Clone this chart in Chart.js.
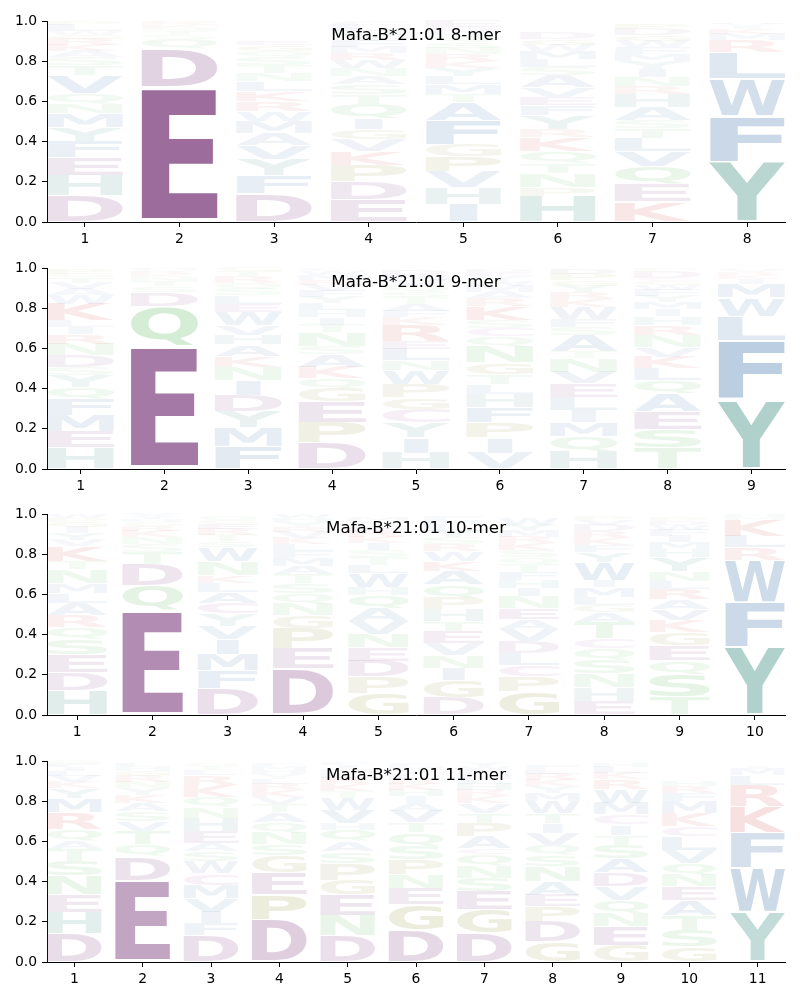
<!DOCTYPE html>
<html>
<head>
<meta charset="utf-8">
<script src="https://cdn.jsdelivr.net/npm/chart.js@4.4.1/dist/chart.umd.min.js"></script>
<style>
body{margin:0;background:#fff;width:800px;height:1000px;position:relative;overflow:hidden;}
.panel{position:absolute;left:0;width:800px;height:247px;}
</style>
</head>
<body>
<div class="panel" style="top:0px"><canvas id="c0" width="800" height="247"></canvas></div>
<div class="panel" style="top:247px"><canvas id="c1" width="800" height="247"></canvas></div>
<div class="panel" style="top:493px"><canvas id="c2" width="800" height="247"></canvas></div>
<div class="panel" style="top:740px"><canvas id="c3" width="800" height="247"></canvas></div>
<script>
const titles=["Mafa-B*21:01 8-mer","Mafa-B*21:01 9-mer","Mafa-B*21:01 10-mer","Mafa-B*21:01 11-mer"];
const yTicks=[0,0.2,0.4,0.6,0.8,1.0];

// letters per position, bottom to top, with their heights
const letters8=["DHEFYMNQVTSAKRGWLP","EDQSTNKRG","DFYVAMWRKLNTSQGE","EDPKVGIQTSANWRMFYHLC","IHVPGFATMLYKRNSQWDE","HPNTQKRYFEVASLMWGD","KEQVLTSAHRNIYMFWGDP","YFWLRMKIVH"];
const heights8=[
 [.13,.10,.09,.08,.07,.07,.05,.05,.09,.05,.04,.03,.03,.03,.02,.02,.03,.02],
 [.67,.19,.05,.02,.02,.015,.015,.01,.01],
 [.14,.09,.08,.07,.06,.06,.05,.05,.05,.05,.04,.04,.04,.03,.03,.02],
 [.11,.09,.08,.07,.06,.05,.055,.07,.05,.05,.04,.04,.04,.035,.03,.03,.03,.02,.03,.02],
 [.09,.08,.08,.075,.06,.12,.09,.04,.05,.04,.04,.035,.035,.03,.03,.03,.025,.02,.03],
 [.13,.04,.07,.05,.06,.07,.04,.07,.05,.04,.05,.06,.04,.04,.04,.03,.03,.03],
 [.10,.085,.09,.075,.065,.05,.04,.065,.065,.04,.045,.04,.04,.035,.035,.03,.03,.03,.025],
 [.30,.227,.187,.13,.06,.03,.025,.015,.01,.008]
];
const letters9=["HEMFQYSDNRILKWAVTGP","EQDSTNKRGH","FMYDINKAHVWELSQRTG","DPEGQKASNTIHLYFVRMWC","HIYCGPWNLERKFATSQVMD","VIPFHLTGNQCSKRAMWYED","HQMILEVNTASFWKRYGPD","TSEAQLKVNRHIMYFWGCDP","YFLWMIKRVH"];
const heights9=[
 [.105,.08,.083,.078,.06,.06,.04,.058,.058,.05,.035,.03,.085,.045,.03,.03,.025,.02,.025],
 [.61,.2,.07,.03,.025,.02,.015,.015,.01,.005],
 [.113,.092,.083,.078,.075,.067,.055,.057,.047,.05,.065,.04,.04,.035,.03,.03,.025,.02],
 [.133,.1,.1,.067,.05,.058,.06,.04,.07,.04,.035,.035,.035,.03,.03,.03,.025,.025,.02,.015],
 [.08,.075,.075,.067,.058,.067,.067,.05,.058,.04,.08,.04,.03,.035,.03,.03,.03,.03,.025,.025],
 [.08,.075,.075,.075,.067,.05,.05,.058,.08,.05,.04,.04,.07,.04,.03,.03,.025,.025,.02,.015],
 [.088,.075,.07,.058,.067,.067,.058,.07,.03,.08,.04,.04,.06,.04,.035,.03,.03,.03,.025],
 [.105,.09,.09,.09,.067,.058,.058,.05,.058,.05,.042,.035,.035,.03,.03,.025,.02,.015,.035,.015],
 [.345,.293,.123,.091,.07,.025,.02,.015,.01,.008]
];
const letters10=["HDESQRALMNTKVYIGPW","EQDTSNKRGHYV","DFMIVYCALKNWSTREGQ","DEPGNQSTAMFLKVRYHW","GPDENVAQHWLTSIKRFYM","DGINVETHPQAKWRSYLMF","GPCLDVAENIHFTQSKRMYW","EHNSQCTAGLMIWYFKRDVP","TSQEGKVARLNYHMIFWDP","YFWRLKMH"];
const heights10=[
 [.124,.09,.086,.075,.06,.06,.06,.05,.05,.07,.04,.075,.03,.035,.03,.025,.02,.02],
 [.52,.126,.105,.06,.04,.035,.03,.025,.02,.015,.012,.012],
 [.13,.09,.083,.075,.065,.06,.055,.055,.045,.035,.07,.07,.03,.03,.03,.025,.02,.02],
 [.23,.1,.1,.065,.06,.05,.05,.045,.04,.04,.035,.035,.03,.03,.025,.025,.02,.02],
 [.108,.083,.078,.067,.065,.065,.065,.065,.04,.07,.04,.04,.035,.035,.03,.03,.025,.025,.02],
 [.088,.083,.063,.063,.058,.061,.05,.058,.058,.066,.066,.05,.05,.035,.035,.03,.03,.025,.02],
 [.116,.075,.058,.058,.06,.06,.05,.055,.058,.04,.04,.04,.04,.035,.035,.035,.03,.03,.03,.035],
 [.07,.067,.067,.067,.058,.05,.08,.05,.035,.04,.05,.035,.09,.05,.035,.035,.035,.03,.025,.02],
 [.088,.116,.066,.075,.066,.058,.055,.05,.053,.04,.05,.07,.04,.035,.03,.03,.025,.02,.02],
 [.34,.222,.209,.061,.058,.079,.015,.01]
];
const letters11=["DHENSTAQRMYKVLIFG","EDQTVSAKYNRGHL","DFIVMCWSAEHNQKRLTG","DPEGSNQATVKRLYHMF","DNEGPSAQHVWTKRLMIF","DGENPSQTVAIHKRLYMF","DGESNQCAPTVKRHLMFWY","GDPEANSQVITWMYKRLF","GENQVDASTICMWRKLH","GSTAENQVLCKMFRH","YWFKRLMI"];
const heights11=[
 [.142,.107,.087,.092,.075,.058,.042,.058,.083,.07,.05,.03,.03,.025,.02,.02,.01],
 [.407,.117,.06,.065,.05,.05,.04,.04,.035,.03,.03,.025,.02,.02],
 [.133,.058,.058,.067,.067,.058,.058,.05,.042,.058,.067,.055,.05,.06,.05,.025,.02,.015],
 [.212,.125,.108,.083,.058,.058,.05,.05,.04,.035,.035,.03,.025,.025,.02,.02,.015],
 [.133,.1,.1,.075,.083,.058,.05,.058,.035,.065,.058,.035,.035,.03,.025,.02,.02,.015],
 [.16,.125,.083,.067,.075,.067,.067,.05,.058,.04,.035,.03,.03,.025,.025,.02,.02,.015],
 [.142,.117,.092,.067,.058,.06,.03,.058,.067,.05,.05,.035,.03,.03,.025,.025,.02,.02,.02],
 [.1,.1,.075,.058,.067,.075,.058,.05,.058,.05,.05,.058,.04,.035,.03,.03,.025,.02],
 [.083,.092,.067,.067,.067,.07,.07,.067,.05,.05,.05,.058,.067,.05,.03,.03,.02],
 [.075,.083,.075,.075,.067,.058,.058,.067,.067,.05,.067,.058,.04,.035,.025],
 [.249,.219,.175,.132,.105,.05,.03,.015]
];

const groupColors={acid:[128,66,128],arom:[60,140,128],hydro:[64,115,170],basic:[210,70,70],gp:[140,140,50],polar:[85,180,85],cys:[160,90,160]};
const letterGroup={D:'acid',E:'acid',Y:'arom',H:'arom',F:'hydro',W:'hydro',L:'hydro',I:'hydro',M:'hydro',V:'hydro',A:'hydro',K:'basic',R:'basic',G:'gp',P:'gp',N:'polar',Q:'polar',S:'polar',T:'polar',C:'cys'};

function colorFor(ch,h){
    const c=groupColors[letterGroup[ch]]||[120,120,120];
    const a=Math.min(1,0.02+1.13*h);
    return `rgba(${c[0]},${c[1]},${c[2]},${a.toFixed(3)})`;
}

const GLYPH_FONT="bold 200px 'DejaVu Sans'";
const glyphCache={};
function glyphBox(ctx,ch){
    if(!glyphCache[ch]){
        ctx.save();
        ctx.font=GLYPH_FONT;
        const t=ctx.measureText(ch);
        ctx.restore();
        glyphCache[ch]={l:t.actualBoundingBoxLeft,r:t.actualBoundingBoxRight,a:t.actualBoundingBoxAscent,d:t.actualBoundingBoxDescent};
    }
    return glyphCache[ch];
}
function drawGlyph(ctx,ch,x,y,w,h,color){
    const m=glyphBox(ctx,ch);
    const ref=glyphBox(ctx,'E');
    const inkW=m.l+m.r;
    // narrow glyphs (like I) keep their shape instead of filling the box
    const gw=w*Math.min(1,inkW/(ref.l+ref.r));
    ctx.save();
    ctx.font=GLYPH_FONT;
    ctx.textAlign='left';
    ctx.textBaseline='alphabetic';
    ctx.translate(x+(w-gw)/2,y);
    ctx.scale(gw/inkW,h/(m.a+m.d));
    ctx.fillStyle=color;
    ctx.fillText(ch,m.l,m.a);
    ctx.restore();
}

const glyphPlugin={
    id:'glyphs',
    afterDatasetsDraw(chart,args,opts){
        const ctx=chart.ctx;
        chart.data.datasets.forEach((ds,k)=>{
            const meta=chart.getDatasetMeta(k);
            meta.data.forEach((bar,i)=>{
                const h=ds.data[i].y;
                if(!h) return;
                const p=bar.getProps(['x','y','base','width'],true);
                const top=Math.min(p.y,p.base), full=Math.abs(p.base-p.y);
                drawGlyph(ctx,ds.letters[i],p.x-p.width/2,top+full*0.025,p.width,full*0.95,colorFor(ds.letters[i],h));
            });
        });
        const a=chart.chartArea;
        ctx.save();
        ctx.font="16.7px 'DejaVu Sans'";
        ctx.fillStyle='#000';
        ctx.textAlign='center';
        ctx.textBaseline='middle';
        ctx.fillText(opts.title,(a.left+a.right)/2,a.top+15);
        ctx.restore();
    }
};

Chart.defaults.font.family="'DejaVu Sans', sans-serif";
Chart.defaults.color="#000";

function makeLogo(canvasId,title,letters,heights){
    const n=letters.length;
    const positions=letters.map((_,i)=>i+1);
    const layers=Math.max(...letters.map(s=>s.length));
    const datasets=[];
    for(let k=0;k<layers;k++){
        datasets.push({
            data:positions.map((p,i)=>({x:p,y:heights[i][k]||0})),
            letters:positions.map((p,i)=>letters[i][k]||''),
            backgroundColor:'rgba(0,0,0,0)',
            borderWidth:0,
            barPercentage:0.8,
            categoryPercentage:1.0
        });
    }
    const axisGrid={display:true,drawOnChartArea:false,drawTicks:true,tickLength:5,color:'#000',lineWidth:1,offset:false};
    new Chart(document.getElementById(canvasId).getContext('2d'),{
        type:'bar',
        data:{datasets:datasets},
        options:{
            responsive:false,animation:false,devicePixelRatio:1,events:[],
            layout:{padding:{top:21,right:15,bottom:0,left:0}},
            plugins:{legend:{display:false},tooltip:{enabled:false},glyphs:{title:title}},
            scales:{
                x:{type:'linear',min:0.6,max:n+0.4,offset:false,stacked:true,
                    afterBuildTicks:s=>{s.ticks=positions.map(v=>({value:v}));},
                    afterFit:s=>{s.height=25;},
                    grid:axisGrid,
                    border:{display:true,color:'#000',width:1},
                    ticks:{padding:4,font:{size:13.9},autoSkip:false,maxRotation:0,callback:v=>String(v)}},
                y:{type:'linear',min:0,max:1,stacked:true,
                    afterBuildTicks:s=>{s.ticks=yTicks.map(v=>({value:v}));},
                    afterFit:s=>{s.width=47;},
                    grid:axisGrid,
                    border:{display:true,color:'#000',width:1},
                    ticks:{padding:5,font:{size:13.9},callback:v=>v.toFixed(1)}}
            }
        },
        plugins:[glyphPlugin]
    });
}

makeLogo('c0',titles[0],letters8,heights8);
makeLogo('c1',titles[1],letters9,heights9);
makeLogo('c2',titles[2],letters10,heights10);
makeLogo('c3',titles[3],letters11,heights11);
</script>
</body>
</html>
